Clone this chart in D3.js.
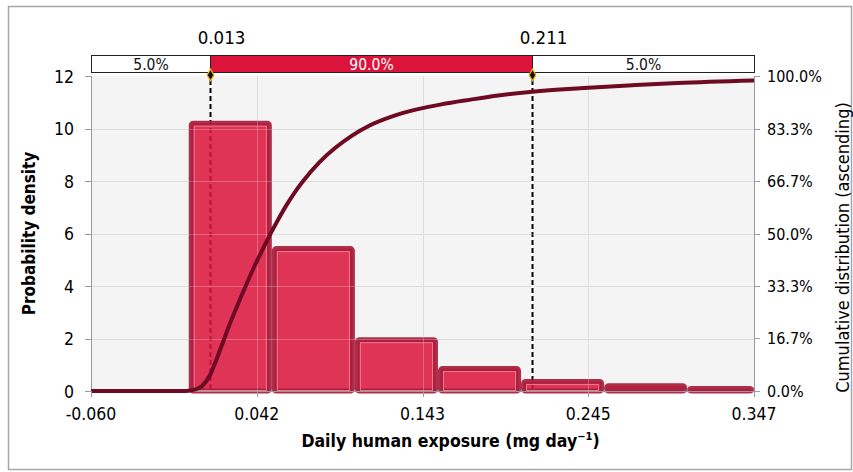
<!DOCTYPE html>
<html>
<head>
<meta charset="utf-8">
<script src="https://cdn.jsdelivr.net/npm/d3@7"></script>
<style>
  body { margin: 0; background: #fff; }
  text { font-family: "DejaVu Sans Condensed", "DejaVu Sans", sans-serif; }
</style>
</head>
<body>
<div id="chart"></div>
<script>
// histogram bins (mg/day) and probability density
const binEdges = [0.000, 0.051, 0.102, 0.153, 0.204, 0.255, 0.306, 0.347];
const densities = [10.3, 5.52, 2.05, 0.95, 0.46, 0.30, 0.19];

// cumulative curve (x in mg/day, y in %)
const cdfX = [-0.060, -0.004, 0.000, 0.004, 0.008, 0.013, 0.017, 0.021, 0.025, 0.030,
              0.035, 0.040, 0.045, 0.050, 0.055, 0.060, 0.065, 0.070, 0.080, 0.090,
              0.100, 0.111, 0.125, 0.140, 0.155, 0.173, 0.190, 0.211, 0.240, 0.270,
              0.300, 0.347];
const cdfY = [0, 0, 0.1, 0.5, 1.5, 5, 10, 15.5, 21, 27.3,
              33.4, 39.2, 44.6, 49.7, 54.5, 59, 63, 66.5, 72.5, 77.2,
              81, 84.3, 87.2, 89.4, 91, 92.5, 93.8, 95, 96.1, 97,
              97.8, 98.6];

// percentile band
const pctValues = [0.013, 0.211];
const bandLabels = ["5.0%", "90.0%", "5.0%"];

// axes
const xTickVals = [-0.060, 0.04175, 0.1435, 0.24525, 0.347];
const xTickLabels = ["-0.060", "0.042", "0.143", "0.245", "0.347"];
const yTicks = [0, 2, 4, 6, 8, 10, 12];
const y2Ticks = [0, 16.667, 33.333, 50, 66.667, 83.333, 100];
const y2TickLabels = ["0.0%", "16.7%", "33.3%", "50.0%", "66.7%", "83.3%", "100.0%"];

const width = 853, height = 472;
const plot = { left: 91, right: 754, top: 76, bottom: 391 };

const svg = d3.select("#chart").append("svg")
    .attr("width", width)
    .attr("height", height);

// outer frame
svg.append("rect")
    .attr("x", 8.5).attr("y", 6.5)
    .attr("width", 843).attr("height", 463)
    .attr("fill", "#fff")
    .attr("stroke", "#a6a6a6")
    .attr("stroke-width", 1.5);

const x = d3.scaleLinear().domain([-0.060, 0.347]).range([plot.left, plot.right]);
const y = d3.scaleLinear().domain([0, 12]).range([plot.bottom, plot.top]);
const y2 = d3.scaleLinear().domain([0, 100]).range([plot.bottom, plot.top]);

// plot background
svg.append("rect")
    .attr("x", plot.left).attr("y", plot.top)
    .attr("width", plot.right - plot.left)
    .attr("height", plot.bottom - plot.top)
    .attr("fill", "#f4f4f4");

// grid lines
const grid = svg.append("g").attr("stroke", "#d2d2d2").attr("stroke-width", 1);
grid.selectAll(".gx").data(xTickVals.slice(1, -1)).enter().append("line")
    .attr("x1", d => Math.round(x(d)) + 0.5).attr("x2", d => Math.round(x(d)) + 0.5)
    .attr("y1", plot.top).attr("y2", plot.bottom);
grid.selectAll(".gy").data(yTicks.slice(1, -1)).enter().append("line")
    .attr("x1", plot.left).attr("x2", plot.right)
    .attr("y1", d => Math.round(y(d)) + 0.5).attr("y2", d => Math.round(y(d)) + 0.5);

// percentile dashed lines
pctValues.forEach(v => {
    const px = Math.round(x(v)) + 0.5;
    svg.append("line")
        .attr("x1", px).attr("x2", px).attr("y1", 72).attr("y2", plot.bottom)
        .attr("stroke", "#fff").attr("stroke-width", 2);
    svg.append("line")
        .attr("x1", px).attr("x2", px).attr("y1", 72).attr("y2", plot.bottom)
        .attr("stroke", "#000").attr("stroke-width", 2)
        .attr("stroke-dasharray", "5,3");
});

// histogram bars
const bins = densities.map((d, i) => ({ x0: binEdges[i], x1: binEdges[i + 1], d: d }));
const bars = svg.append("g");
bins.forEach(b => {
    const bx = x(b.x0), bw = x(b.x1) - x(b.x0);
    const by = y(b.d), bh = plot.bottom - by;
    bars.append("rect")
        .attr("x", bx + 2.5).attr("y", by + 2.5)
        .attr("width", bw - 5).attr("height", Math.max(bh - 2.5, 0))
        .attr("rx", 2)
        .attr("fill", "#dc143c").attr("fill-opacity", 0.86)
        .attr("stroke", "#a81d3c").attr("stroke-opacity", 0.92)
        .attr("stroke-width", 5);
    if (bh > 12) {
        bars.append("rect")
            .attr("x", bx + 5.5).attr("y", by + 5.5)
            .attr("width", bw - 11).attr("height", bh - 6)
            .attr("fill", "none")
            .attr("stroke", "#ee7a90").attr("stroke-width", 1);
    }
});

// faint grid showing through bars
const grid2 = svg.append("g").attr("stroke", "#ffffff").attr("stroke-opacity", 0.25);
grid2.selectAll(".gx").data(xTickVals.slice(1, -1)).enter().append("line")
    .attr("x1", d => Math.round(x(d)) + 0.5).attr("x2", d => Math.round(x(d)) + 0.5)
    .attr("y1", plot.top).attr("y2", plot.bottom);
grid2.selectAll(".gy").data(yTicks.slice(1, -1)).enter().append("line")
    .attr("x1", plot.left).attr("x2", plot.right)
    .attr("y1", d => Math.round(y(d)) + 0.5).attr("y2", d => Math.round(y(d)) + 0.5);

// axes lines
const axisColor = "#9a9a9a";
svg.append("line").attr("x1", plot.left + 0.5).attr("x2", plot.left + 0.5)
    .attr("y1", plot.top).attr("y2", plot.bottom).attr("stroke", axisColor);
svg.append("line").attr("x1", plot.right + 0.5).attr("x2", plot.right + 0.5)
    .attr("y1", plot.top).attr("y2", plot.bottom).attr("stroke", axisColor);
svg.append("line").attr("x1", plot.left).attr("x2", plot.right)
    .attr("y1", plot.bottom + 0.5).attr("y2", plot.bottom + 0.5).attr("stroke", axisColor);

// cumulative curve
const cdfData = cdfX.map((v, i) => [v, cdfY[i]]);
svg.append("path")
    .datum(cdfData)
    .attr("fill", "none")
    .attr("stroke", "#6f0a23")
    .attr("stroke-width", 4)
    .attr("stroke-linejoin", "round")
    .attr("d", d3.line().x(d => x(d[0])).y(d => y2(d[1])).curve(d3.curveMonotoneX));

// x axis
const fontSize = 17.5;
const xAxis = svg.append("g");
xTickVals.forEach((v, i) => {
    const px = Math.round(x(v)) + 0.5;
    xAxis.append("line").attr("x1", px).attr("x2", px)
        .attr("y1", plot.bottom).attr("y2", plot.bottom + 6).attr("stroke", axisColor);
    xAxis.append("text")
        .attr("x", x(v)).attr("y", plot.bottom + 29)
        .attr("text-anchor", "middle")
        .style("font-size", fontSize + "px")
        .text(xTickLabels[i]);
});

// left axis
yTicks.forEach(v => {
    const py = Math.round(y(v)) + 0.5;
    svg.append("line").attr("x1", plot.left - 6).attr("x2", plot.left)
        .attr("y1", py).attr("y2", py).attr("stroke", axisColor);
    svg.append("text")
        .attr("x", 74).attr("y", y(v) + 6.5)
        .attr("text-anchor", "end")
        .style("font-size", fontSize + "px")
        .text(v);
});

// right axis
y2Ticks.forEach((v, i) => {
    const py = Math.round(y2(v)) + 0.5;
    svg.append("line").attr("x1", plot.right).attr("x2", plot.right + 6)
        .attr("y1", py).attr("y2", py).attr("stroke", axisColor);
    svg.append("text")
        .attr("x", 767).attr("y", y2(v) + 6)
        .attr("text-anchor", "start")
        .style("font-size", "16px")
        .text(y2TickLabels[i]);
});

// axis titles
svg.append("text")
    .attr("transform", `translate(35,${(plot.top + plot.bottom) / 2}) rotate(-90)`)
    .attr("text-anchor", "middle")
    .style("font-size", "17px").style("font-weight", "bold")
    .text("Probability density");

svg.append("text")
    .attr("transform", `translate(849,${(plot.top + plot.bottom) / 2 + 14}) rotate(-90)`)
    .attr("text-anchor", "middle")
    .style("font-size", "18px")
    .text("Cumulative distribution (ascending)");

const xTitle = svg.append("text")
    .attr("x", (plot.left + plot.right) / 2 + 28).attr("y", 447)
    .attr("text-anchor", "middle")
    .style("font-size", "17.5px").style("font-weight", "bold");
xTitle.append("tspan").text("Daily human exposure (mg day");
xTitle.append("tspan").attr("dy", -7).style("font-size", "11px").text("\u22121");
xTitle.append("tspan").attr("dy", 7).text(")");

// percentile band on top
const bandTop = 55, bandH = 17;
const bandEdges = [-0.060, pctValues[0], pctValues[1], 0.347];
bandLabels.forEach((lab, i) => {
    const bx0 = Math.round(x(bandEdges[i])) + 0.5, bx1 = Math.round(x(bandEdges[i + 1])) + 0.5;
    const mid = i === 1;
    svg.append("rect")
        .attr("x", bx0).attr("y", bandTop + 0.5)
        .attr("width", bx1 - bx0).attr("height", bandH)
        .attr("fill", mid ? "#dc143c" : "#fff")
        .attr("stroke", "#222").attr("stroke-width", 1);
    svg.append("text")
        .attr("x", (bx0 + bx1) / 2).attr("y", bandTop + 14.5)
        .attr("text-anchor", "middle")
        .attr("fill", mid ? "#fff" : "#111")
        .style("font-size", "15.5px")
        .text(lab);
});

// percentile values and markers
pctValues.forEach(v => {
    const px = Math.round(x(v)) + 0.5;
    svg.append("text")
        .attr("x", px + 11).attr("y", 44)
        .attr("text-anchor", "middle")
        .style("font-size", "18.5px")
        .text(v.toFixed(3));
    svg.append("path")
        .attr("d", d3.symbol(d3.symbolDiamond, 40)())
        .attr("transform", `translate(${px},${plot.top - 1})`)
        .attr("fill", "#111").attr("stroke", "#f0b400").attr("stroke-width", 1.2);
});
</script>
</body>
</html>
